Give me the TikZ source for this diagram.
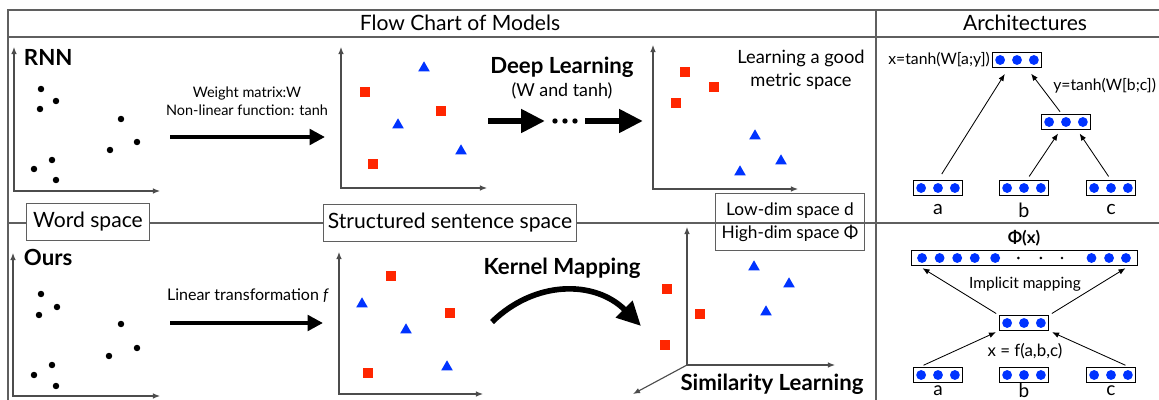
\documentclass[tikz,border=0pt]{standalone}
\usepackage{fontspec}
\setmainfont{Lato}
\usepackage{tikz}
\usetikzlibrary{arrows.meta}
\usetikzlibrary{shapes.geometric}
\definecolor{sqred}{RGB}{255,38,0}
\definecolor{triblue}{RGB}{0,51,255}
\definecolor{framegray}{RGB}{95,95,95}
\tikzset{
  frameline/.style={draw=framegray, line width=0.9pt},
  axisline/.style={draw=black!70, line width=0.8pt, {Latex[length=5pt,width=4pt]}-{Latex[length=5pt,width=4pt]}},
  axisone/.style={draw=black!70, line width=0.8pt, -{Latex[length=5pt,width=4pt]}},
  bigarrow/.style={line width=2.8pt, -{Triangle[length=11pt,width=11pt]}},
  fatarrow/.style={line width=4.6pt, -{Triangle[length=17pt,width=16pt]}},
  archarrow/.style={line width=0.6pt, -{Latex[length=5pt,width=4pt]}},
  wordpt/.style={circle, fill=black, inner sep=0pt, minimum size=4.6pt},
  redsq/.style={rectangle, fill=sqred, inner sep=0pt, minimum size=7pt},
  bluetri/.style={regular polygon, regular polygon sides=3, fill=triblue, inner sep=0pt, minimum size=9.5pt},
  vbox/.style={draw, line width=0.7pt, minimum width=35.5pt, minimum height=10.7pt, inner sep=0pt},
  titletext/.style={font=\fontsize{15}{17}\selectfont},
  boldtext/.style={font=\fontsize{15.8}{18}\selectfont\bfseries},
  smalltext/.style={font=\fontsize{10.3}{12.5}\selectfont, align=center},
  archtext/.style={font=\fontsize{11.2}{13}\selectfont},
  spacebox/.style={draw=framegray, line width=0.8pt, fill=white, font=\fontsize{15}{17}\selectfont, minimum height=26pt, inner xsep=2pt}
}
% three blue units in a box
\newcommand{\vecunits}[2]{%
  \node[vbox] (#1) at (#2) {};
  \foreach \d in {-12,0,12} \fill[triblue] ([xshift=\d pt]#1.center) circle (3.5pt);
}
\begin{document}
\begin{tikzpicture}[x=0.025cm, y=-0.025cm]
\useasboundingbox (0,0) rectangle (1159,400);
% frame
\draw[frameline] (8,400) -- (8,10) -- (1159,10);
\draw[frameline] (8,37) -- (1159,37);
\draw[frameline] (876,10) -- (876,400);
\draw[frameline] (8,223) -- (1159,223);
\node[titletext] (flowtitle) at (460,23) {Flow Chart of Models};
\node[titletext] (archtitle) at (1025,23) {Architectures};

% ---- RNN row ----
\draw[axisline] (14,47) |- (160,191);
\node[boldtext, anchor=west] (rnn) at (19,57) {RNN};
\foreach \x/\y [count=\i] in {41/89,56/101,40/109,121/119,137/142,110/150,52/160,34/169,56/180}
  \node[wordpt] (wa\i) at (\x,\y) {};
\coordinate (wa-out) at (170,137);
\coordinate (sa-in) at (325,137);
\draw[bigarrow] (wa-out) -- (sa-in);
\node[smalltext] (wlabel) at (247,101) {Weight matrix:W\\Non-linear function: tanh};

\draw[axisline] (341,47) |- (487,188);
\foreach \x/\y [count=\i] in {365/92,441/111,373/164}
  \node[redsq] (sa\i) at (\x,\y) {};
\foreach \x/\y [count=\i] in {424/68,398/125,461/151}
  \node[bluetri] (ta\i) at (\x,\y) {};

\node[boldtext] (deep) at (562,67) {Deep Learning};
\node[smalltext, font=\fontsize{12.7}{14}\selectfont] (deepsub) at (562,91) {(W and tanh)};
\coordinate (dl-a) at (488,121);
\coordinate (dl-b) at (545,121);
\coordinate (dl-c) at (585,121);
\coordinate (dl-d) at (643,121);
\draw[fatarrow] (dl-a) -- (dl-b);
\foreach \x in {555,565,575} \fill (\x,121) circle (1.9pt);
\draw[fatarrow] (dl-c) -- (dl-d);

\draw[axisline] (653,45) |- (798,189);
\foreach \x/\y [count=\i] in {685/72,714/87,676/103}
  \node[redsq] (sb\i) at (\x,\y) {};
\foreach \x/\y [count=\i] in {755/136,781/161,740/172}
  \node[bluetri] (tb\i) at (\x,\y) {};
\node[smalltext, font=\fontsize{13}{16.5}\selectfont] (metric) at (801,70) {Learning a good\\metric space};

% ---- space labels ----
\node[spacebox, minimum width=87pt] (wordsp) at (88,222) {Word space};
\node[spacebox, minimum width=180pt] (sentsp) at (450,223) {Structured sentence space};
\node[draw=framegray, line width=0.8pt, minimum width=106pt, minimum height=40pt,
      align=center, font=\fontsize{12.3}{16.5}\selectfont] (legend) at (790,222)
      {Low-dim space d\\High-dim space Φ};

% ---- Ours row ----
\draw[axisline] (13,253) |- (160,396);
\node[boldtext, anchor=west] (ours) at (19,257) {Ours};
\foreach \x/\y [count=\i] in {41/294,57/307,39/315,121/324,137/348,109/356,52/365,34/375,56/386}
  \node[wordpt] (wb\i) at (\x,\y) {};
\coordinate (wb-out) at (170,323);
\coordinate (sc-in) at (323,323);
\draw[bigarrow] (wb-out) -- (sc-in);
\node[smalltext, font=\fontsize{11.4}{13}\selectfont] (lintr) at (248,296) {Linear transformation \textit{f}};

\draw[axisline] (339,252) |- (483,394);
\foreach \x/\y [count=\i] in {391/276,450/313,368/373}
  \node[redsq] (sc\i) at (\x,\y) {};
\foreach \x/\y [count=\i] in {362/304,406/330,447/367}
  \node[bluetri] (tc\i) at (\x,\y) {};

\node[boldtext] (kernel) at (562,268) {Kernel Mapping};
\coordinate (km-a) at (492,322);
\coordinate (km-b) at (641,326);
\draw[fatarrow, line width=4pt] (km-a) .. controls (535,280) and (595,280) .. (km-b);

\coordinate (origin3d) at (687,365);
\draw[axisone] (origin3d) -- (687,227);
\draw[axisone] (origin3d) -- (835,365);
\draw[axisone] (origin3d) -- (633,394);
\foreach \x/\y [count=\i] in {667/289,700/314,665/345}
  \node[redsq] (sd\i) at (\x,\y) {};
\foreach \x/\y [count=\i] in {754/267,789/284,766/312}
  \node[bluetri] (td\i) at (\x,\y) {};
\node[boldtext] (simil) at (772,384) {Similarity Learning};

% ---- architectures: RNN ----
\vecunits{rtop}{1017,60}
\vecunits{rmid}{1066,122}
\vecunits{ra}{938,188}
\vecunits{rb}{1024,188}
\vecunits{rc}{1111,188}
\node[archtext, anchor=east, inner sep=1pt] (xeq) at (rtop.west) {x=tanh(W[a;y])};
\node[archtext, anchor=west, inner sep=0pt] (yeq) at (1053,86) {y=tanh(W[b;c])};
\draw[archarrow, shorten <=5pt, shorten >=5pt] (ra.north) -- ([xshift=-6pt]rtop.south);
\draw[archarrow, shorten <=2pt, shorten >=5pt] ([xshift=-3pt]rmid.north) -- ([xshift=7pt]rtop.south);
\draw[archarrow, shorten <=3pt, shorten >=3pt] ([xshift=2pt]rb.north) -- ([xshift=-4pt]rmid.south);
\draw[archarrow, shorten <=3pt, shorten >=3pt] (rc.north) -- ([xshift=8pt]rmid.south);
\node[font=\fontsize{14}{16}\selectfont] (la) at (938,210) {a};
\node[font=\fontsize{14}{16}\selectfont] (lb) at (1024,210) {b};
\node[font=\fontsize{14}{16}\selectfont] (lc) at (1111,210) {c};

% ---- architectures: ours ----
\node[vbox, minimum width=160.7pt] (phi) at (1024,258) {};
\foreach \d in {-72.5,-60,-47.5,-35,-20.5,48,60.5,72.5}
  \fill[triblue] ([xshift=\d pt]phi.center) circle (3.5pt);
\foreach \d in {-4,12,27}
  \fill ([xshift=\d pt]phi.center) circle (1pt);
\node[font=\fontsize{12}{14}\selectfont\bfseries] (phix) at (1024,238) {Φ(x)};
\node[archtext, font=\fontsize{11}{13}\selectfont] (impl) at (1025,284) {Implicit mapping};
\vecunits{omid}{1024,323}
\vecunits{oa}{938,375}
\vecunits{ob}{1024,375}
\vecunits{oc}{1111,375}
\node[archtext, font=\fontsize{12}{14}\selectfont] (xf) at (1025,351) {x = f(a,b,c)};
\draw[archarrow, shorten <=2pt, shorten >=3pt] (omid.north west) -- ([xshift=6pt]phi.south west);
\draw[archarrow, shorten <=2pt, shorten >=3pt] (omid.north east) -- ([xshift=-6pt]phi.south east);
\draw[archarrow, shorten <=3pt, shorten >=2pt] ([xshift=-13pt]oa.north) -- (omid.south west);
\draw[archarrow, shorten <=3pt, shorten >=2pt] ([xshift=13pt]oc.north) -- (omid.south east);
\node[font=\fontsize{13.5}{16}\selectfont] (oal) at (938,391) {a};
\node[font=\fontsize{13.5}{16}\selectfont] (obl) at (1024,391) {b};
\node[font=\fontsize{13.5}{16}\selectfont] (ocl) at (1111,391) {c};
\end{tikzpicture}
\end{document}
